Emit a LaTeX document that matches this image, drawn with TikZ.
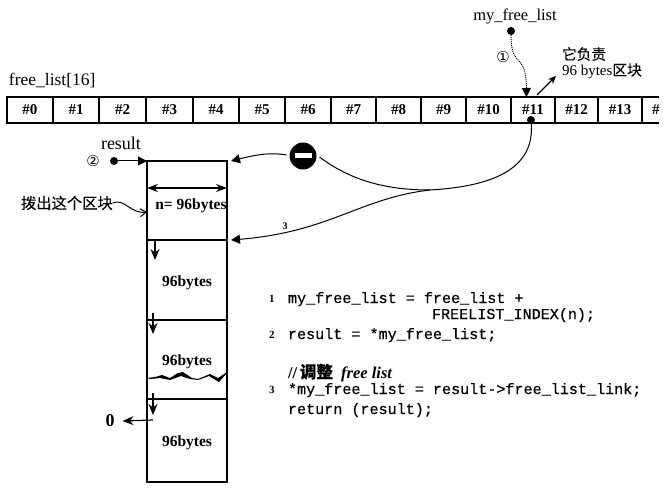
\documentclass[tikz,border=0pt]{standalone}
\usepackage{fontspec}
\setmainfont{Liberation Serif}
\setmonofont[FakeBold=0.5]{Liberation Mono}
\newfontfamily\cjk[FakeBold=0.25]{Noto Sans CJK SC}
\newfontfamily\symb{DejaVu Sans}
\usetikzlibrary{arrows.meta, positioning, calc}
\newcommand{\fs}[1]{\fontsize{#1}{#1}\selectfont}

\begin{document}
\begin{tikzpicture}[
  x=1pt, y=-1pt,
  every node/.style={font=\fs{14}, inner sep=0pt, outer sep=0pt},
  slotcell/.style={rectangle, draw, line width=1.1pt, minimum height=26pt, font=\fs{15}\bfseries},
  blockbox/.style={rectangle, draw, line width=1.2pt, minimum width=80pt, anchor=north},
  blocktext/.style={font=\fs{15.5}\bfseries},
  dotnode/.style={circle, fill=black, minimum size=8pt},
  codeline/.style={anchor=base west, font=\fs{15.1}\ttfamily},
  codenum/.style={anchor=base west, font=\fs{11}\bfseries},
  link/.style={line width=1pt, -{Triangle[length=9pt, width=9pt]}},
  nextptr/.style={line width=1.2pt, -{Stealth[length=11pt, width=9pt]}},
]
\useasboundingbox (0,0) rectangle (667,500);

% free list slots
\foreach \i/\xa/\xb in {0/7/53, 1/53/99, 2/99/146, 3/146/193, 4/193/239, 5/239/285, 6/285/331, 7/331/376, 8/376/421, 9/421/466, 10/466/511, 11/511/555, 12/555/598, 13/598/642}
  \node[slotcell, minimum width=\xb pt-\xa pt] (slot\i) at ({(\xa+\xb)/2},110) {\#\i};
\draw[line width=1.1pt] (slot13.north east) -- (659,97) (slot13.south east) -- (659,123);
\node[font=\fs{15}\bfseries, anchor=west] (slot14) at (652,110) {\#};
\node[anchor=base west, font=\fs{17.5}] (listname) at (9,86) {free\_list[16]};

% pointer to slot 11
\node[anchor=base, font=\fs{16.5}] (myname) at (515,21) {my\_free\_list};
\node[dotnode] (mydot) at (511,31) {};
\node[font=\fs{15}\symb] (num1) at (503,57) {①};
\draw[link, densely dotted] (mydot) .. controls (511,70) and (526,50) .. (526.5,97);
\coordinate (noteend) at (556,76);
\draw[line width=1.1pt, -{Stealth[length=8pt, width=7pt]}] (537,95) -- (noteend);
\node[anchor=west, font=\fs{14.7}\cjk] (note1) at (562,54) {它负责};
\node[anchor=west, font=\fs{15}] (note2) at (562,71) {96 bytes{\cjk\fs{14.7}区块}};

% memory blocks
\node[blockbox, minimum height=79pt] (blk1) at (187,161) {};
\node[blockbox, minimum height=80pt] (blk2) at (blk1.south) {};
\node[blockbox, minimum height=79pt] (blk3) at (blk2.south) {};
\node[blockbox, minimum height=83pt] (blk4) at (blk3.south) {};
\node[blocktext] (size1) at (191,206) {n= 96bytes};
\node[blocktext] (size2) at (187,283) {96bytes};
\node[blocktext] (size3) at (187,362) {96bytes};
\node[blocktext] (size4) at (187,443) {96bytes};
\draw[line width=1.1pt, {Stealth[length=11pt, width=8pt]}-{Stealth[length=11pt, width=8pt]}] (blk1.west |- 0,188) -- (blk1.east |- 0,188);

% torn edge
\fill (147,378) -- (155,377) -- (162,375) -- (170,378) -- (178,373) -- (183,372) -- (192,378) -- (198,379) -- (210,374) -- (218,378) -- (227,372) -- (227,373) -- (219,382) -- (209,376) -- (198,380) -- (190,379) -- (181,376) -- (170,380) -- (160,378) -- (150,379) -- cycle;

% next pointers
\coordinate (next1) at (155,240);
\coordinate (next2) at (153,313);
\coordinate (next3) at (153,393);
\draw[nextptr] (next1) -- ++(0,20);
\draw[nextptr] (next2) -- ++(0,21);
\draw[nextptr] (next3) -- ++(0,22);
\node[font=\fs{18}\bfseries] (zero) at (110,421) {0};
\coordinate (nullfrom) at (153,420);
\draw[nextptr] (nullfrom) -- ([xshift=8pt]zero.east);

% result pointer
\node[anchor=base, font=\fs{18}] (resname) at (121,150) {result};
\node[font=\fs{15}\symb] (num2) at (93,161) {②};
\node[dotnode] (resdot) at (114,161) {};
\draw[link] (resdot) -- (blk1.north west);

% take-out label
\node[anchor=west, font=\fs{15.3}\cjk] (takeout) at (21,203) {拨出这个区块};
\coordinate (takeend) at (blk1.west |- 0,212);
\draw[line width=1pt, -{Straight Barb[length=6pt, width=8pt]}] (takeout.east) .. controls (125,198) and (130,214) .. (takeend);

% removal path
\node[circle, fill=black, minimum size=27pt] (stop) at (303,156) {};
\node[fill=white, minimum width=17pt, minimum height=5pt] (stopbar) at (stop) {};
\node[dotnode] (slotdot) at (531,120) {};
\coordinate (joinpt) at (430,190);
\draw[line width=1pt] (slotdot) .. controls (535,175) and (480,187) .. (joinpt);
\draw[line width=1pt] ([xshift=3pt,yshift=-1pt]stop.east) .. controls (350,180) and (385,190) .. (joinpt);
\draw[link] ([xshift=-3pt,yshift=1pt]stop.west) .. controls (270,152) and (255,155) .. ([xshift=4pt]blk1.north east);
\draw[link] (joinpt) .. controls (360,198) and (330,232) .. ([xshift=4pt]blk2.north east);
\node[font=\fs{10}\bfseries] (num3) at (285,226) {3};

% code
\node[codenum] (cn1) at (269,302) {1};
\node[codeline] (code1) at (288,303) {my\_free\_list = free\_list +};
\node[codeline] (code2) at (432,319) {FREELIST\_INDEX(n);};
\node[codenum] (cn2) at (269,338) {2};
\node[codeline] (code3) at (288,339) {result = *my\_free\_list;};
\node[anchor=base west, font=\fs{16.5}\bfseries] (code4) at (288,378) {//\,{\cjk 调整}\ \ \textit{free list}};
\node[codenum] (cn3) at (269,393) {3};
\node[codeline] (code5) at (288,394) {*my\_free\_list = result->free\_list\_link;};
\node[codeline] (code6) at (288,414) {return (result);};
\end{tikzpicture}
\end{document}
